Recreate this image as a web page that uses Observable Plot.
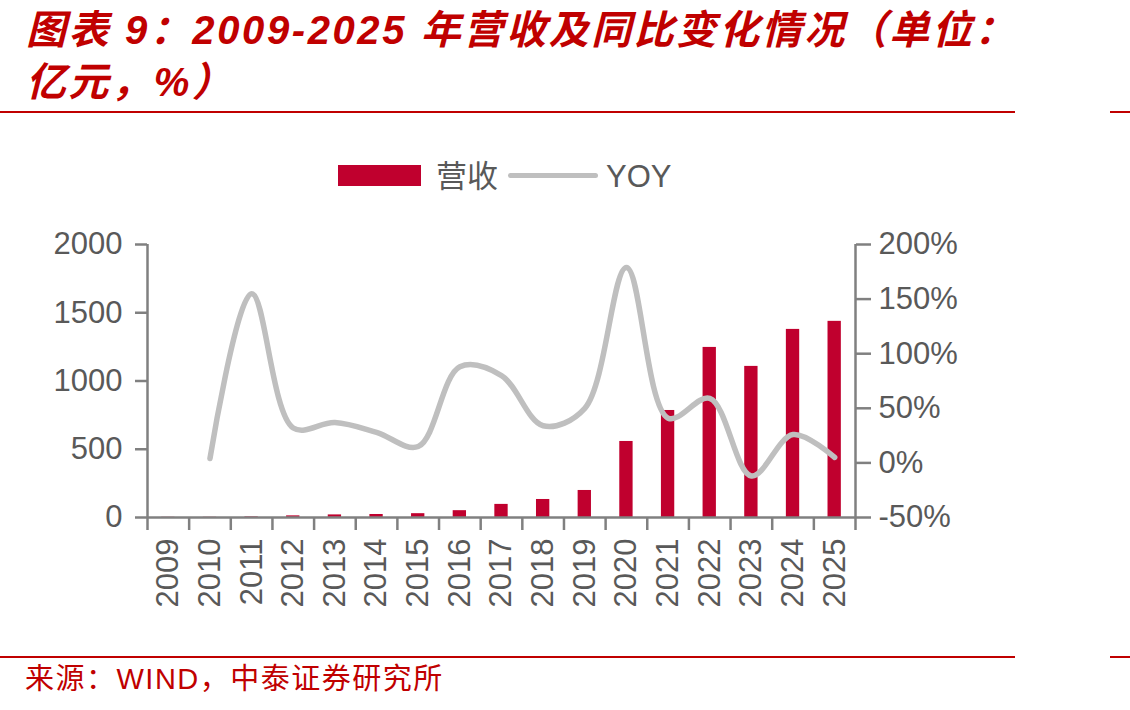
<!DOCTYPE html>
<html>
<head>
<meta charset="utf-8">
<script src="https://cdn.jsdelivr.net/npm/d3@7"></script>
<script src="https://cdn.jsdelivr.net/npm/@observablehq/plot@0.6"></script>
<style>
  body { margin: 0; background: #fff; width: 1130px; height: 710px; position: relative; overflow: hidden;
         font-family: "Liberation Sans", Arial, "Noto Sans CJK SC", sans-serif; }
  .abs { position: absolute; white-space: nowrap; }
  .title { color: #c00000; font-weight: bold; font-style: italic; font-size: 40px; line-height: 40px;
           letter-spacing: 2.6px; left: 26px; }
  .rule { position: absolute; height: 2px; background: #c00000; }
  .legend-text { color: #595959; font-size: 31px; line-height: 31px; }
  .source { color: #c00000; font-size: 29px; line-height: 29px; letter-spacing: 1.5px; left: 25px; top: 665px; }
  #chart { position: absolute; left: 0; top: 0; }
</style>
</head>
<body>
<div class="abs title" style="top:10px">图表 9：2009-2025 年营收及同比变化情况（单位：</div>
<div class="abs title" style="top:62px">亿元，%）</div>
<div class="rule" style="left:0;top:111px;width:1015px"></div>
<div class="rule" style="left:1110px;top:111px;width:20px"></div>

<div class="abs" style="left:338px;top:165px;width:83px;height:21px;background:#c0002e"></div>
<div class="abs legend-text" style="left:436px;top:161px">营收</div>
<div class="abs" style="left:508px;top:173px;width:90px;height:5px;border-radius:3px;background:#bfbfbf"></div>
<div class="abs legend-text" style="left:606px;top:161px">YOY</div>

<div id="chart"></div>

<div class="rule" style="left:0;top:656px;width:1015px"></div>
<div class="rule" style="left:1110px;top:656px;width:20px"></div>
<div class="abs source">来源：WIND，中泰证券研究所</div>

<script>
// Annual revenue (亿元) and year-over-year growth (%)
const years   = [2009, 2010, 2011, 2012, 2013, 2014, 2015, 2016, 2017, 2018, 2019, 2020, 2021, 2022, 2023, 2024, 2025];
const revenue = [1.6, 1.7, 4.3, 12, 19, 22, 28, 50, 96, 132, 198, 557, 784, 1246, 1107, 1378, 1437];
const yoy     = [null, 4, 155, 32, 37, 28, 15, 88, 80, 34, 50, 179, 41, 59, -12, 26, 5];

const leftTicks  = [0, 500, 1000, 1500, 2000];
const rightTicks = [-50, 0, 50, 100, 150, 200];

const rows = years.map((year, i) => ({year, revenue: revenue[i], yoy: yoy[i]}));

// The growth series shares the revenue scale through a linear mapping
const pct = d3.scaleLinear([-50, 200], [0, 2000]);

const half = 0.16;            // half bar width, in years
const axisGray = "#808080";
const labelGray = "#595959";
const fontSize = 31;

const chart = Plot.plot({
  width: 1130,
  height: 710,
  marginTop: 244,
  marginBottom: 193,
  marginLeft: 147,
  marginRight: 275,
  style: {fontFamily: '"Liberation Sans", Arial, sans-serif', fontSize: fontSize + "px", color: labelGray, background: "transparent"},
  x: {domain: [years[0] - 0.5, years[years.length - 1] + 0.5]},
  y: {domain: [0, 2000]},
  marks: [
    Plot.rectY(rows, {x1: d => d.year - half, x2: d => d.year + half, y: "revenue", fill: "#c0002e"}),
    Plot.line(rows.filter(d => d.yoy != null), {
      x: "year", y: d => pct(d.yoy), curve: "catmull-rom",
      stroke: "#bfbfbf", strokeWidth: 5.5, strokeLinecap: "round", strokeLinejoin: "round"
    }),
    // axis lines
    Plot.ruleY([0], {stroke: axisGray, strokeWidth: 2.5}),
    Plot.ruleX([years[0] - 0.5, years[years.length - 1] + 0.5], {stroke: axisGray, strokeWidth: 2.5}),
    // left axis: revenue
    Plot.axisY({anchor: "left", ticks: leftTicks, tickSize: 12, tickPadding: 13,
      tickFormat: d => String(d),
      stroke: axisGray, strokeWidth: 2.5, fill: labelGray, label: null}),
    // right axis: growth
    Plot.axisY({anchor: "right", ticks: rightTicks.map(pct), tickSize: 15, tickPadding: 8,
      tickFormat: v => `${Math.round(pct.invert(v))}%`,
      stroke: axisGray, strokeWidth: 2.5, fill: labelGray, label: null}),
    // category boundary ticks on the x axis
    Plot.axisX({ticks: d3.range(years[0] - 0.5, years[years.length - 1] + 1, 1), tickSize: 13,
      tickFormat: () => "", stroke: axisGray, strokeWidth: 2.5, label: null}),
    // year labels
    Plot.axisX({ticks: years, tickSize: 0, tickPadding: 21, tickRotate: -90,
      tickFormat: d => String(d), fill: labelGray, label: null})
  ]
});

document.getElementById("chart").appendChild(chart);
</script>
</body>
</html>
